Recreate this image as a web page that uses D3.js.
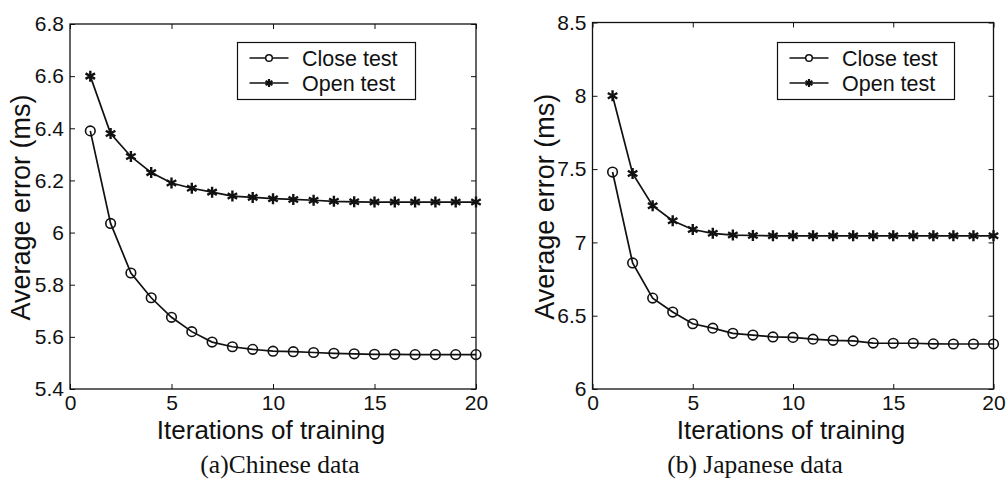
<!DOCTYPE html>
<html>
<head>
<meta charset="utf-8">
<script src="https://cdn.jsdelivr.net/npm/d3@7"></script>
<style>
  html, body { margin: 0; padding: 0; background: #fff; }
  svg { display: block; }
  text { fill: #111; }
</style>
</head>
<body>
<svg id="chart" width="1006" height="479"></svg>
<script>
// Training iterations shared by both panels
const iterations = [1, 2, 3, 4, 5, 6, 7, 8, 9, 10, 11, 12, 13, 14, 15, 16, 17, 18, 19, 20];

// (a) Chinese data: average error (ms)
const chineseClose = [6.39, 6.035, 5.845, 5.75, 5.675, 5.62, 5.58, 5.562, 5.552, 5.545, 5.543, 5.540, 5.537, 5.535, 5.533, 5.533, 5.532, 5.532, 5.532, 5.532];
const chineseOpen  = [6.60, 6.38, 6.292, 6.23, 6.19, 6.17, 6.155, 6.14, 6.135, 6.13, 6.127, 6.124, 6.12, 6.118, 6.117, 6.117, 6.117, 6.117, 6.117, 6.117];

// (b) Japanese data: average error (ms)
const japaneseClose = [7.48, 6.86, 6.62, 6.525, 6.445, 6.415, 6.38, 6.368, 6.355, 6.352, 6.34, 6.332, 6.328, 6.313, 6.312, 6.312, 6.308, 6.307, 6.307, 6.307];
const japaneseOpen  = [8.00, 7.47, 7.25, 7.148, 7.088, 7.062, 7.05, 7.047, 7.045, 7.045, 7.045, 7.045, 7.045, 7.045, 7.045, 7.045, 7.045, 7.045, 7.045, 7.045];

// Axis ticks
const xTicks = [0, 5, 10, 15, 20];
const xTickLabels = ["0", "5", "10", "15", "20"];
const chineseYTicks = [5.4, 5.6, 5.8, 6.0, 6.2, 6.4, 6.6, 6.8];
const chineseYTickLabels = ["5.4", "5.6", "5.8", "6", "6.2", "6.4", "6.6", "6.8"];
const japaneseYTicks = [6, 6.5, 7, 7.5, 8, 8.5];
const japaneseYTickLabels = ["6", "6.5", "7", "7.5", "8", "8.5"];

// Series names and captions
const seriesNames = ["Close test", "Open test"];
const xLabel = "Iterations of training";
const yLabel = "Average error (ms)";
const captions = ["(a)Chinese data", "(b) Japanese data"];

const svg = d3.select("#chart");
const INK = "#111";

// asterisk marker: three crossing strokes
function starPath(r) {
  let p = "";
  for (let k = 0; k < 3; k++) {
    const a = Math.PI / 2 + k * Math.PI / 3;
    const dx = r * Math.cos(a), dy = r * Math.sin(a);
    p += `M${-dx},${-dy}L${dx},${dy}`;
  }
  return p;
}

function drawPanel(opt) {
  const { left, top, right, bottom } = opt.box;
  const x = d3.scaleLinear().domain([0, 20]).range([left, right]);
  const y = d3.scaleLinear().domain(opt.yDomain).range([bottom, top]);
  const g = svg.append("g");

  const tickFont = "21px 'Liberation Sans', Arial, sans-serif";

  // left axis with labels
  const yLab = d3.scaleOrdinal().domain(opt.yTicks).range(opt.yTickLabels);
  const ax = g.append("g").attr("transform", `translate(${left},0)`)
    .call(d3.axisLeft(y).tickValues(opt.yTicks).tickSizeInner(-5).tickSizeOuter(0)
      .tickPadding(6).tickFormat(d => yLab(d)));
  // bottom axis with labels
  const xLab = d3.scaleOrdinal().domain(xTicks).range(xTickLabels);
  const bx = g.append("g").attr("transform", `translate(0,${bottom})`)
    .call(d3.axisBottom(x).tickValues(xTicks).tickSizeInner(-5).tickSizeOuter(0)
      .tickPadding(6.5).tickFormat(d => xLab(d)));
  // top and right axes, ticks only
  const tx = g.append("g").attr("transform", `translate(0,${top})`)
    .call(d3.axisTop(x).tickValues(xTicks).tickSizeInner(-5).tickSizeOuter(0).tickFormat(""));
  const rx = g.append("g").attr("transform", `translate(${right},0)`)
    .call(d3.axisRight(y).tickValues(opt.yTicks).tickSizeInner(-5).tickSizeOuter(0).tickFormat(""));

  [ax, bx, tx, rx].forEach(a => {
    a.select(".domain").remove();
    a.selectAll(".tick line").attr("stroke", INK).attr("stroke-width", 1);
    a.selectAll(".tick text").style("font", tickFont).attr("fill", INK);
  });

  // frame
  g.append("rect")
    .attr("x", left).attr("y", top)
    .attr("width", right - left).attr("height", bottom - top)
    .attr("fill", "none").attr("stroke", INK).attr("stroke-width", 1.3);

  // axis titles
  g.append("text")
    .attr("x", (left + right) / 2 - 2).attr("y", 438.5)
    .attr("text-anchor", "middle")
    .style("font", "26px 'Liberation Sans', Arial, sans-serif")
    .text(xLabel);
  g.append("text")
    .attr("transform", `translate(${opt.yLabelX},${(top + bottom) / 2 + 1}) rotate(-90)`)
    .attr("text-anchor", "middle")
    .style("font", "27px 'Liberation Sans', Arial, sans-serif")
    .text(yLabel);

  // caption
  g.append("text")
    .attr("x", opt.captionX).attr("y", 472.5)
    .attr("text-anchor", "middle")
    .style("font", "25.5px 'Liberation Serif', 'Times New Roman', serif")
    .text(opt.caption);

  const line = d3.line().x((d, i) => x(iterations[i])).y(d => y(d));

  // Close test: circles
  g.append("path").datum(opt.close)
    .attr("d", line).attr("fill", "none").attr("stroke", INK).attr("stroke-width", 1.7);
  g.selectAll("circle.close").data(opt.close).enter().append("circle")
    .attr("class", "close")
    .attr("cx", (d, i) => x(iterations[i])).attr("cy", d => y(d))
    .attr("r", 4.8).attr("fill", "none").attr("stroke", INK).attr("stroke-width", 1.6);

  // Open test: asterisks
  g.append("path").datum(opt.open)
    .attr("d", line).attr("fill", "none").attr("stroke", INK).attr("stroke-width", 1.7);
  g.selectAll("path.open").data(opt.open).enter().append("path")
    .attr("class", "open")
    .attr("transform", (d, i) => `translate(${x(iterations[i])},${y(d)})`)
    .attr("d", starPath(5.5)).attr("fill", "none").attr("stroke", INK).attr("stroke-width", 2.4);

  // legend
  const L = opt.legend;
  g.append("rect")
    .attr("x", L.x).attr("y", L.y).attr("width", L.w).attr("height", L.h)
    .attr("fill", "#fff").attr("stroke", INK).attr("stroke-width", 1.2);
  const rows = [L.y + 15.5, L.y + 40.5];
  seriesNames.forEach((name, k) => {
    const ry = rows[k];
    const x0 = L.x + 12, x1 = L.x + 51, xm = (x0 + x1) / 2;
    g.append("line").attr("x1", x0).attr("x2", x1).attr("y1", ry).attr("y2", ry)
      .attr("stroke", INK).attr("stroke-width", 1.7);
    if (k === 0) {
      g.append("circle").attr("cx", xm).attr("cy", ry).attr("r", 3.3)
        .attr("fill", "#fff").attr("stroke", INK).attr("stroke-width", 1.5);
    } else {
      g.append("path").attr("transform", `translate(${xm},${ry})`)
        .attr("d", starPath(4)).attr("stroke", INK).attr("stroke-width", 2.2);
    }
    g.append("text")
      .attr("x", L.x + 64.5).attr("y", ry)
      .attr("dy", "0.35em")
      .style("font", "21.5px 'Liberation Sans', Arial, sans-serif")
      .text(name);
  });
}

drawPanel({
  box: { left: 70, top: 24, right: 476, bottom: 389 },
  yDomain: [5.4, 6.8],
  yTicks: chineseYTicks,
  yTickLabels: chineseYTickLabels,
  close: chineseClose,
  open: chineseOpen,
  yLabelX: 30,
  caption: captions[0],
  captionX: 280,
  legend: { x: 237.5, y: 42.5, w: 178, h: 57 }
});

drawPanel({
  box: { left: 592.5, top: 22.5, right: 993.5, bottom: 389 },
  yDomain: [6, 8.5],
  yTicks: japaneseYTicks,
  yTickLabels: japaneseYTickLabels,
  close: japaneseClose,
  open: japaneseOpen,
  yLabelX: 554,
  caption: captions[1],
  captionX: 755,
  legend: { x: 777.5, y: 42.5, w: 177, h: 57 }
});
</script>
</body>
</html>
